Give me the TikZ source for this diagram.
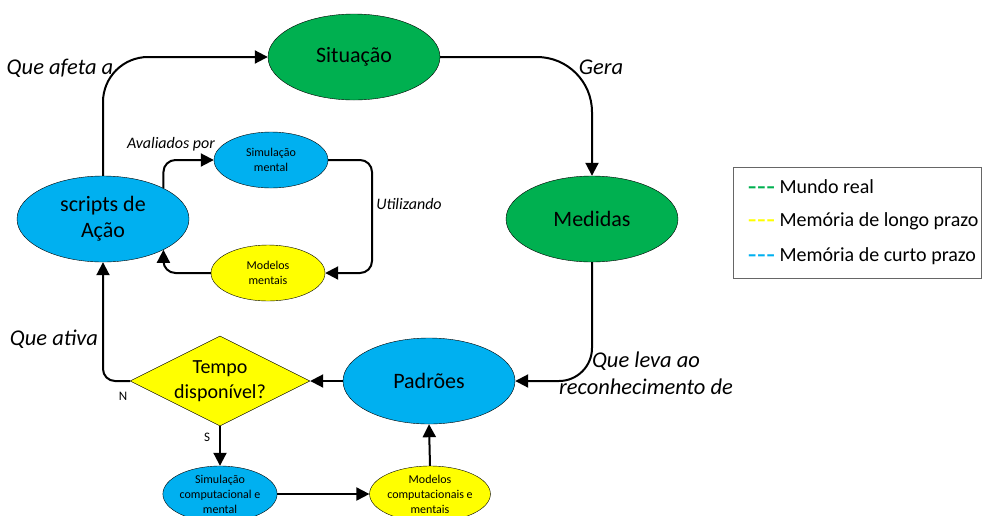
\documentclass[tikz,border=0pt]{standalone}
\usepackage{fontspec}
\setmainfont{Carlito}
\usetikzlibrary{shapes.geometric,arrows.meta}
\definecolor{mundogreen}{HTML}{00B050}
\definecolor{curtoblue}{HTML}{00B0F0}
\definecolor{longoyellow}{HTML}{FFFF00}
\newcommand{\legdash}[1]{{\color{#1}\textbf{\scalebox{1.35}[1]{-}\kern1pt\scalebox{1.35}[1]{-}\kern1pt\scalebox{1.35}[1]{-}}}}
\begin{document}
\begin{tikzpicture}[
  x=1pt, y=-1pt,
  big/.style={ellipse, draw, minimum width=172pt, minimum height=86pt, inner sep=0pt, align=center, font=\fontsize{22}{26}\selectfont},
  small/.style={ellipse, draw, minimum width=114pt, minimum height=56pt, inner sep=0pt, align=center, font=\fontsize{12}{15}\selectfont},
  decision/.style={diamond, draw, aspect=2, minimum width=180pt, minimum height=90pt, inner sep=0pt, align=center, fill=longoyellow, font=\fontsize{20}{25}\selectfont},
  link/.style={draw, line width=2pt, rounded corners=12pt, -{Triangle[length=13pt,width=13pt]}},
  lbl/.style={font=\fontsize{22.5}{27}\selectfont\itshape, align=center},
  smalllbl/.style={font=\fontsize{16}{18}\selectfont\itshape},
  mark letter/.style={font=\fontsize{13}{15}\selectfont},
  legendtext/.style={anchor=west, inner sep=0pt, font=\fontsize{20}{24}\selectfont}
]
\useasboundingbox (0,0) rectangle (982,515);

% main cycle
\node[big, fill=mundogreen] (sit) at (354,57) {Situação};
\node[big, fill=mundogreen] (med) at (592,219) {Medidas};
\node[big, fill=curtoblue] (pad) at (429,381) {Padrões};
\node[big, fill=curtoblue] (scripts) at (103,219) {scripts de\\Ação};
\node[decision] (tempo) at (220,381) {Tempo\\disponível?};

% inner loop
\node[small, fill=curtoblue] (simm) at (271,160) {Simulação\\mental};
\node[small, fill=longoyellow] (modm) at (268,273) {Modelos\\mentais};
\coordinate (util) at (372,216);

% bottom branch
\node[small, fill=curtoblue] (simc) at (220,494) {Simulação\\computacional e\\mental};
\node[small, fill=longoyellow] (modc) at (430,494) {Modelos\\computacionais e\\mentais};

\draw[link, rounded corners=45pt] (scripts.north) |- (sit.west);
\draw[link, rounded corners=55pt] (sit.east) -| (med.north);
\draw[link, rounded corners=33pt] (med.south) |- (pad.east);
\draw[link] (pad.west) -- (tempo.east);
\draw[link] (tempo.west) -| (scripts.south);
\draw[link] (tempo.south) -- (simc.north);
\draw[link] (simc.east) -- (modc.west);
\draw[link] (modc.north) -- (pad.south);
\draw[link] (scripts.27) |- (simm.west);
\draw[link] (simm.east) -| (util) |- (modm.east);
\draw[link] (modm.west) -| (scripts.-27);

% labels
\node[lbl] (afeta) at (60,68) {Que afeta a};
\node[lbl] (gera) at (601,67) {Gera};
\node[lbl] (leva) at (646,373) {Que leva ao\\reconhecimento de};
\node[lbl] (ativa) at (54,339) {Que ativa};
\node[smalllbl] (avaliados) at (171,144) {Avaliados por};
\node[smalllbl] (utilizando) at (409,204) {Utilizando};
\node[mark letter] (nao) at (123,396) {N};
\node[mark letter] (sim) at (207,437) {S};

% legend
\draw[black!60] (733,167) rectangle (981,278);
\node[legendtext] (leg1) at (748,187) {\legdash{mundogreen} Mundo real};
\node[legendtext] (leg2) at (748,221) {\legdash{longoyellow} Memória de longo prazo};
\node[legendtext] (leg3) at (748,256) {\legdash{curtoblue} Memória de curto prazo};
\end{tikzpicture}
\end{document}
